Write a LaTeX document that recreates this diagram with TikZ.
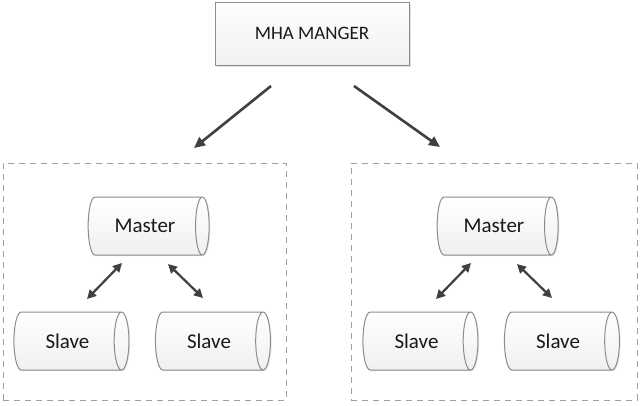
\documentclass[tikz,border=0pt]{standalone}
\usepackage{fontspec}
\setmainfont{Carlito}
\usetikzlibrary{shapes.geometric,arrows.meta,shadows}
\definecolor{arrowgray}{HTML}{404040}
\definecolor{edgegray}{HTML}{8C8C8C}
\definecolor{dashgray}{HTML}{A0A0A0}
\begin{document}
\begin{tikzpicture}[x=1pt,y=-1pt,
  mgrbox/.style={draw=edgegray, line width=1pt, rectangle, top color=white, bottom color=gray!12,
    minimum width=194pt, minimum height=63pt, inner sep=0pt,
    drop shadow={shadow xshift=1.5pt, shadow yshift=-1.5pt, opacity=0.25},
    font=\fontsize{19}{22}\selectfont, text=black!90},
  groupbox/.style={draw=dashgray, line width=0.9pt, dash pattern=on 6pt off 5pt, rectangle, inner sep=0pt},
  dbcyl/.style={draw=edgegray, line width=1pt, cylinder, shape border rotate=0, aspect=1,
    top color=white, bottom color=gray!12,
    minimum width=58pt, inner sep=0pt,
    drop shadow={shadow xshift=1.2pt, shadow yshift=-1.2pt, opacity=0.2},
    font=\fontsize{21}{24}\selectfont, text=black!90},
  mainarrow/.style={draw=arrowgray, line width=2.6pt, -{Triangle[length=11pt,width=10pt]}},
  syncarrow/.style={draw=arrowgray, line width=2.2pt, {Triangle[length=9pt,width=9pt]}-{Triangle[length=9pt,width=9pt]}}
]
\useasboundingbox (0,0) rectangle (640,405);
\fill[white] (0,0) rectangle (640,405);

% manager
\node[mgrbox] (mha) at (312,33.5) {MHA MANGER};

% groups
\node[groupbox, minimum width=283pt, minimum height=237pt] (g1) at (144.5,281.5) {};
\node[groupbox, minimum width=286pt, minimum height=237pt] (g2) at (494,281.5) {};

% cylinders
\node[dbcyl, minimum height=121pt] (m1) at (145,226) {Master};
\node[dbcyl, minimum height=115pt] (s1) at (67.5,341) {Slave};
\node[dbcyl, minimum height=115pt] (s2) at (209,341) {Slave};
\node[dbcyl, minimum height=121pt] (m2) at (494,226) {Master};
\node[dbcyl, minimum height=115pt] (s3) at (416.5,341) {Slave};
\node[dbcyl, minimum height=115pt] (s4) at (558,341) {Slave};

% arrow end points
\coordinate (la1) at (271,86);  \coordinate (la2) at (194,148);
\coordinate (ra1) at (354,86);  \coordinate (ra2) at (440,147);
\coordinate (p1a) at (122,263); \coordinate (p1b) at (87,299);
\coordinate (p2a) at (168,264); \coordinate (p2b) at (203,298);
\coordinate (p3a) at (471,263); \coordinate (p3b) at (436,299);
\coordinate (p4a) at (517,264); \coordinate (p4b) at (552,298);

\draw[mainarrow] (la1) -- (la2);
\draw[mainarrow] (ra1) -- (ra2);
\draw[syncarrow] (p1a) -- (p1b);
\draw[syncarrow] (p2a) -- (p2b);
\draw[syncarrow] (p3a) -- (p3b);
\draw[syncarrow] (p4a) -- (p4b);
\end{tikzpicture}
\end{document}
